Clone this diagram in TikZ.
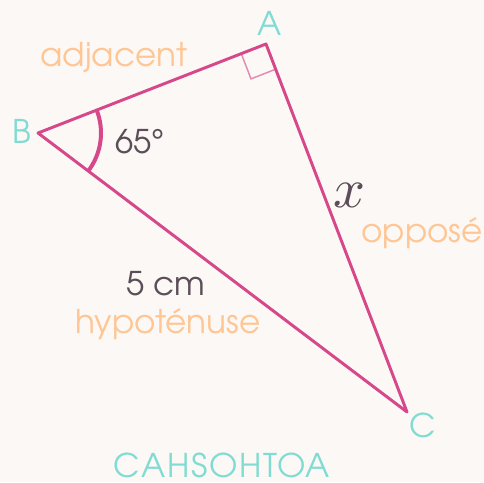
\documentclass[tikz,border=0pt]{standalone}
\usepackage{fontspec}
\setmainfont{TeX Gyre Adventor}
\newfontfamily\lmmath{Latin Modern Math}
\usetikzlibrary{calc}
\definecolor{bgc}{RGB}{251,248,245}
\definecolor{mag}{RGB}{214,72,138}
\definecolor{magl}{RGB}{226,140,180}
\definecolor{tealc}{RGB}{128,220,210}
\definecolor{peach}{RGB}{255,198,148}
\definecolor{darkt}{RGB}{92,78,88}
\tikzset{
  side/.style={draw=mag, line width=2.2pt, line join=round, line cap=round},
  vlabel/.style={text=tealc, font=\fontsize{24.5}{28}\selectfont, inner sep=0pt},
  wlabel/.style={text=peach, font=\fontsize{24.5}{28}\selectfont, inner sep=0pt, anchor=base},
  dlabel/.style={text=darkt, font=\fontsize{24.5}{28}\selectfont, inner sep=0pt, anchor=base},
}
\begin{document}
\begin{tikzpicture}[x=0.75pt,y=0.75pt]
\fill[bgc] (0,0) rectangle (484,482);
\useasboundingbox (0,0) rectangle (484,482);
\coordinate (B) at (38,349);
\coordinate (A) at (266,438);
\coordinate (C) at (407,70);
% right angle marker
\coordinate (r1) at (241.3,428.3);
\coordinate (r2) at (251.0,403.1);
\coordinate (r3) at (275.7,412.8);
\draw[magl, line width=1.1pt] (r1) -- (r2) -- (r3);
% angle arc
\draw[mag, line width=3pt] ($(B)+(21.3:63)$) arc[start angle=21.3, end angle=-37.1, radius=63];
\draw[side] (B) -- (A) -- (C) -- cycle;
\node[vlabel] (lA) at (270,459) {A};
\node[vlabel] (lB) at (22,351) {B};
\node[vlabel] (lC) at (423,57) {C};
\node[wlabel] (adj) at (114,415) {adjacent};
\node[dlabel] (ang) at (140,328) {65°};
\node[text=darkt, inner sep=0pt, font=\lmmath\fontsize{42}{46}\selectfont] (x) at (350,287) {𝑥};
\node[wlabel] (opp) at (422,240) {opposé};
\node[dlabel] (len) at (166,187) {5 cm};
\node[wlabel] (hyp) at (168,149) {hypoténuse};
\node[vlabel, anchor=base, font=\fontsize{24.5}{28}\selectfont\addfontfeature{LetterSpace=5}] (mn) at (222,5) {CAHSOHTOA};
\end{tikzpicture}
\end{document}
